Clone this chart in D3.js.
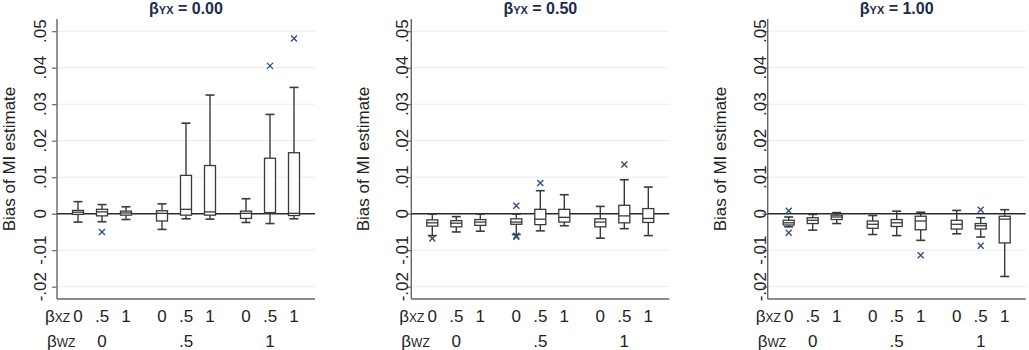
<!DOCTYPE html>
<html>
<head>
<meta charset="utf-8">
<script src="https://cdn.jsdelivr.net/npm/d3@7"></script>
<style>
  html, body { margin: 0; padding: 0; background: #fff; }
  svg { display: block; }
  text { font-family: "Liberation Sans", Arial, sans-serif; }
</style>
</head>
<body>
<svg id="chart" width="1029" height="350"></svg>
<script>
// ---------- data ----------
const panelTitles = ["0.00", "0.50", "1.00"];
const bxzLabels = ["0", ".5", "1"];
const bwzLabels = ["0", ".5", "1"];
const yTickValues = [-0.02, -0.01, 0, 0.01, 0.02, 0.03, 0.04, 0.05];
const yTickLabels = ["-.02", "-.01", "0", ".01", ".02", ".03", ".04", ".05"];

// box stats: [lower whisker, q1, median, q3, upper whisker], 9 boxes per panel
const statsYX000 = [
  [-0.0023, -0.0002, 0.0004, 0.0009, 0.0033],
  [-0.0022, -0.0006, 0.0005, 0.0012, 0.0025],
  [-0.0016, -0.0004, 0.0002, 0.0007, 0.0019],
  [-0.0043, -0.0020, 0.0001, 0.0008, 0.0027],
  [-0.0014, -0.0004, 0.0012, 0.0105, 0.0248],
  [-0.0015, -0.0004, 0.0005, 0.0132, 0.0325],
  [-0.0024, -0.0013, 0.0001, 0.0007, 0.0041],
  [-0.0027, 0.0001, 0.0003, 0.0152, 0.0272],
  [-0.0014, -0.0005, 0.0001, 0.0167, 0.0346]
];
const statsYX050 = [
  [-0.0060, -0.0034, -0.0025, -0.0017, -0.0001],
  [-0.0050, -0.0036, -0.0026, -0.0019, -0.0008],
  [-0.0048, -0.0032, -0.0023, -0.0016, -0.0001],
  [-0.0057, -0.0029, -0.0023, -0.0014, -0.0001],
  [-0.0047, -0.0030, -0.0015, 0.0012, 0.0063],
  [-0.0033, -0.0023, -0.0010, 0.0012, 0.0052],
  [-0.0067, -0.0036, -0.0023, -0.0014, 0.0020],
  [-0.0041, -0.0025, -0.0006, 0.0023, 0.0093],
  [-0.0060, -0.0024, -0.0013, 0.0014, 0.0073]
];
const statsYX100 = [
  [-0.0036, -0.0031, -0.0025, -0.0018, -0.0009],
  [-0.0045, -0.0027, -0.0018, -0.0011, -0.0002],
  [-0.0027, -0.0016, -0.0009, -0.0004, 0.0003],
  [-0.0057, -0.0040, -0.0029, -0.0020, -0.0005],
  [-0.0060, -0.0035, -0.0025, -0.0016, 0.0007],
  [-0.0073, -0.0044, -0.0020, -0.0007, 0.0004],
  [-0.0055, -0.0042, -0.0029, -0.0018, 0.0009],
  [-0.0064, -0.0042, -0.0033, -0.0027, -0.0011],
  [-0.0172, -0.0080, -0.0015, -0.0007, 0.0011]
];
// outliers: [box index, value]
const outYX000 = [[1, -0.0050], [7, 0.0405], [8, 0.0480]];
const outYX050 = [[0, -0.0068], [3, 0.0022], [3, -0.0060], [3, -0.0063], [4, 0.0084], [7, 0.0135]];
const outYX100 = [[0, 0.0008], [0, -0.0052], [5, -0.0114], [7, 0.0011], [7, -0.0088]];

const panelStats = [statsYX000, statsYX050, statsYX100];
const panelOut = [outYX000, outYX050, outYX100];

// ---------- layout ----------
const svg = d3.select("#chart");
const axisXs = [57, 411.3, 767.7];
const tickLabelOffset = [-17, -9, -8];
const plotW = 258, plotTop = 19, plotBottom = 299;
const titleColor = "#1c2b4d";
const markColor = "#2c4b7a";
const boxStroke = "#3a3a3a";

const y = d3.scaleLinear().domain([-0.02337, 0.05334]).range([plotBottom, plotTop]);
const posOf = i => Math.floor(i / 3) * 3.5 + (i % 3);

panelTitles.forEach((t, p) => {
  const x0 = axisXs[p];
  const x = d3.scaleLinear().domain([-0.875, 9.875]).range([x0, x0 + plotW]);
  const g = svg.append("g");

  // gridlines
  g.selectAll("line.grid").data(yTickValues.filter(v => v !== 0)).enter()
    .append("line")
    .attr("x1", x0).attr("x2", x0 + plotW)
    .attr("y1", d => y(d)).attr("y2", d => y(d))
    .attr("stroke", "#e4ecf1").attr("stroke-width", 1);

  // y axis via d3
  const yAxis = d3.axisLeft(y).tickValues(yTickValues).tickSize(5).tickFormat("");
  const ag = g.append("g").attr("transform", `translate(${x0},0)`).call(yAxis);
  ag.select(".domain").attr("stroke", "#666").attr("stroke-width", 1.4)
    .attr("d", `M-5,${plotTop}H0V${plotBottom}`);
  ag.selectAll(".tick line").attr("stroke", "#666").attr("stroke-width", 1.2);
  ag.select(".domain").attr("d", `M0,${plotTop}V${plotBottom}`);

  // tick labels (rotated)
  g.selectAll("text.tl").data(yTickValues).enter()
    .append("text")
    .attr("transform", d => `translate(${x0 + tickLabelOffset[p]},${y(d)}) rotate(-90)`)
    .attr("text-anchor", "middle").attr("dy", "0.36em")
    .attr("font-size", 17).attr("fill", "#222")
    .text((d, i) => yTickLabels[i]);

  // bottom axis line
  g.append("line").attr("x1", x0).attr("x2", x0 + plotW)
    .attr("y1", plotBottom).attr("y2", plotBottom)
    .attr("stroke", "#666").attr("stroke-width", 1.4);

  // zero line
  g.append("line").attr("x1", x0).attr("x2", x0 + plotW)
    .attr("y1", y(0)).attr("y2", y(0))
    .attr("stroke", "#2a2a2a").attr("stroke-width", 1.4);

  // y label
  g.append("text")
    .attr("transform", `translate(${x0 - 48},${(plotTop + plotBottom) / 2}) rotate(-90)`)
    .attr("text-anchor", "middle").attr("dy", "0.36em")
    .attr("font-size", 17).attr("fill", "#222")
    .text("Bias of MI estimate");

  // title
  const tt = g.append("text")
    .attr("x", x0 + plotW / 2).attr("y", 14)
    .attr("text-anchor", "middle")
    .attr("font-size", 16).attr("font-weight", "bold").attr("fill", titleColor);
  tt.append("tspan").text("β");
  tt.append("tspan").attr("font-size", 11).text("YX");
  tt.append("tspan").text(" = " + t);

  // boxes
  const stats = panelStats[p];
  const bw = 11, cw = 9;
  const bg = g.selectAll("g.box").data(stats).enter().append("g");
  bg.append("line")
    .attr("x1", (d, i) => x(posOf(i))).attr("x2", (d, i) => x(posOf(i)))
    .attr("y1", d => y(d[3])).attr("y2", d => y(d[4]))
    .attr("stroke", boxStroke).attr("stroke-width", 1.4);
  bg.append("line")
    .attr("x1", (d, i) => x(posOf(i))).attr("x2", (d, i) => x(posOf(i)))
    .attr("y1", d => y(d[1])).attr("y2", d => y(d[0]))
    .attr("stroke", boxStroke).attr("stroke-width", 1.4);
  [0, 4].forEach(k => {
    bg.append("line")
      .attr("x1", (d, i) => x(posOf(i)) - cw / 2).attr("x2", (d, i) => x(posOf(i)) + cw / 2)
      .attr("y1", d => y(d[k])).attr("y2", d => y(d[k]))
      .attr("stroke", boxStroke).attr("stroke-width", 1.6);
  });
  bg.append("rect")
    .attr("x", (d, i) => x(posOf(i)) - bw / 2).attr("width", bw)
    .attr("y", d => y(d[3])).attr("height", d => Math.max(1, y(d[1]) - y(d[3])))
    .attr("fill", "#fff").attr("stroke", boxStroke).attr("stroke-width", 1.3);
  bg.append("line")
    .attr("x1", (d, i) => x(posOf(i)) - bw / 2).attr("x2", (d, i) => x(posOf(i)) + bw / 2)
    .attr("y1", d => y(d[2])).attr("y2", d => y(d[2]))
    .attr("stroke", boxStroke).attr("stroke-width", 1.3);

  // outliers
  const s = 3;
  g.selectAll("path.out").data(panelOut[p]).enter()
    .append("path")
    .attr("d", d => {
      const cx = x(posOf(d[0])), cy = y(d[1]);
      return `M${cx - s},${cy - s}L${cx + s},${cy + s}M${cx - s},${cy + s}L${cx + s},${cy - s}`;
    })
    .attr("stroke", markColor).attr("stroke-width", 1.3).attr("fill", "none");

  // bottom category labels
  const r1 = 322, r2 = 347;
  const l1 = g.append("text").attr("x", x0 - 12).attr("y", r1).attr("font-size", 17).attr("fill", "#222");
  l1.append("tspan").text("β");
  l1.append("tspan").attr("font-size", 12).text("XZ");
  const l2 = g.append("text").attr("x", x0 - 10).attr("y", r2).attr("font-size", 17).attr("fill", "#222");
  l2.append("tspan").text("β");
  l2.append("tspan").attr("font-size", 12).text("WZ");

  g.selectAll("text.bxz").data(d3.range(9)).enter()
    .append("text")
    .attr("x", i => x(posOf(i))).attr("y", r1)
    .attr("text-anchor", "middle").attr("font-size", 17).attr("fill", "#222")
    .text(i => bxzLabels[i % 3]);
  g.selectAll("text.bwz").data(d3.range(3)).enter()
    .append("text")
    .attr("x", j => x(posOf(j * 3 + 1))).attr("y", r2)
    .attr("text-anchor", "middle").attr("font-size", 17).attr("fill", "#222")
    .text(j => bwzLabels[j]);
});
</script>
</body>
</html>
